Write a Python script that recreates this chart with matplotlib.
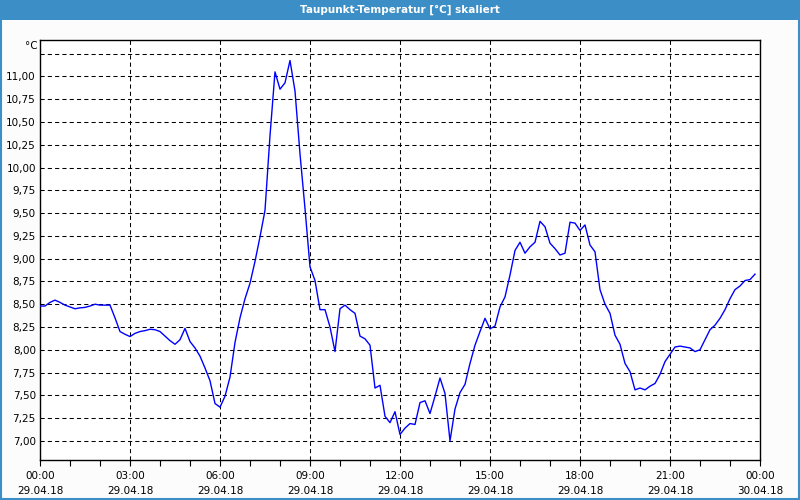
import pandas as pd
import numpy as np
import matplotlib
matplotlib.use("Agg")
import matplotlib.pyplot as plt
import matplotlib.dates as mdates
from matplotlib.patches import Rectangle
from matplotlib.ticker import FixedLocator, FuncFormatter

# Taupunkt in °C, 10-Minuten-Werte ab 29.04.18 00:00
taupunkt = [
    8.48, 8.48, 8.52, 8.545, 8.52, 8.49, 8.47, 8.45, 8.46, 8.465, 8.48, 8.50,
    8.49, 8.49, 8.49, 8.35, 8.20, 8.17, 8.145, 8.18, 8.20, 8.21, 8.225, 8.22,
    8.20, 8.15, 8.10, 8.06, 8.11, 8.235, 8.09, 8.02, 7.93, 7.80, 7.66, 7.41,
    7.37, 7.49, 7.70, 8.08, 8.35, 8.56, 8.73, 8.97, 9.24, 9.53, 10.35, 11.05,
    10.86, 10.93, 11.175, 10.84, 10.15, 9.55, 8.91, 8.76, 8.44, 8.44, 8.25, 7.98,
    8.45, 8.49, 8.44, 8.40, 8.15, 8.12, 8.05, 7.58, 7.61, 7.27, 7.20, 7.32,
    7.07, 7.14, 7.19, 7.18, 7.42, 7.44, 7.30, 7.49, 7.69, 7.52, 7.00, 7.35,
    7.53, 7.62, 7.85, 8.05, 8.20, 8.345, 8.23, 8.26, 8.47, 8.58, 8.82, 9.09,
    9.18, 9.06, 9.13, 9.18, 9.41, 9.35, 9.17, 9.11, 9.04, 9.06, 9.40, 9.39,
    9.31, 9.37, 9.15, 9.075, 8.66, 8.50, 8.40, 8.16, 8.06, 7.85, 7.76, 7.56,
    7.58, 7.56, 7.60, 7.63, 7.73, 7.87, 7.95, 8.03, 8.04, 8.03, 8.02, 7.98,
    8.00, 8.11, 8.22, 8.27, 8.345, 8.44, 8.56, 8.66, 8.70, 8.76, 8.77, 8.83,
]
zeit = pd.date_range("2018-04-29 00:00", periods=len(taupunkt), freq="10min")

y_ticks = [7.0 + 0.25 * i for i in range(18)]  # 7,00 ... 11,25
titel = "Taupunkt-Temperatur [°C] skaliert"

bg = "#fbfcfb"
blau = "#3c8fc6"

fig = plt.figure(figsize=(8, 5), dpi=100, facecolor=bg)

# Titelleiste und Rahmen
fig.patches.append(Rectangle((0, 0.96), 1, 0.04, transform=fig.transFigure,
                             facecolor=blau, edgecolor="none", zorder=0))
fig.patches.append(Rectangle((0.001, 0.002), 0.998, 0.996, transform=fig.transFigure,
                             facecolor="none", edgecolor=blau, linewidth=1.5, zorder=5))
fig.text(0.5, 0.98, titel, color="white", ha="center", va="center",
         fontsize=7.5, fontweight="bold")

ax = fig.add_axes([0.05, 0.08, 0.90, 0.84], facecolor="white")
ax.plot(zeit, taupunkt, color="#0000ff", linewidth=1.0, zorder=3)

start = pd.Timestamp("2018-04-29 00:00")
ax.set_xlim(start, start + pd.Timedelta(hours=24))
ax.set_ylim(6.79, 11.40)

ax.xaxis.set_major_locator(mdates.HourLocator(byhour=range(0, 24, 3)))
ax.xaxis.set_minor_locator(mdates.HourLocator())
ax.xaxis.set_major_formatter(mdates.DateFormatter("%H:%M\n%d.%m.%y"))

ax.yaxis.set_major_locator(FixedLocator(y_ticks))
ax.yaxis.set_major_formatter(FuncFormatter(
    lambda v, p: "" if v > 11.1 else f"{v:.2f}".replace(".", ",")))

ax.tick_params(axis="x", which="both", direction="out", length=4, width=0.8,
               labelsize=7.5, pad=4)
ax.tick_params(axis="y", length=0, labelsize=7.5, pad=3)
for lbl in ax.get_xticklabels():
    lbl.set_linespacing(1.55)

ax.grid(True, which="major", color="black", linestyle=(0, (4, 3)), linewidth=0.75)
for s in ax.spines.values():
    s.set_color("black")
    s.set_linewidth(1.0)

ax.text(-0.003, 0.985, "°C", transform=ax.transAxes, ha="right", va="center",
        fontsize=7.5)

fig.savefig("out.png", dpi=100, facecolor=bg)
